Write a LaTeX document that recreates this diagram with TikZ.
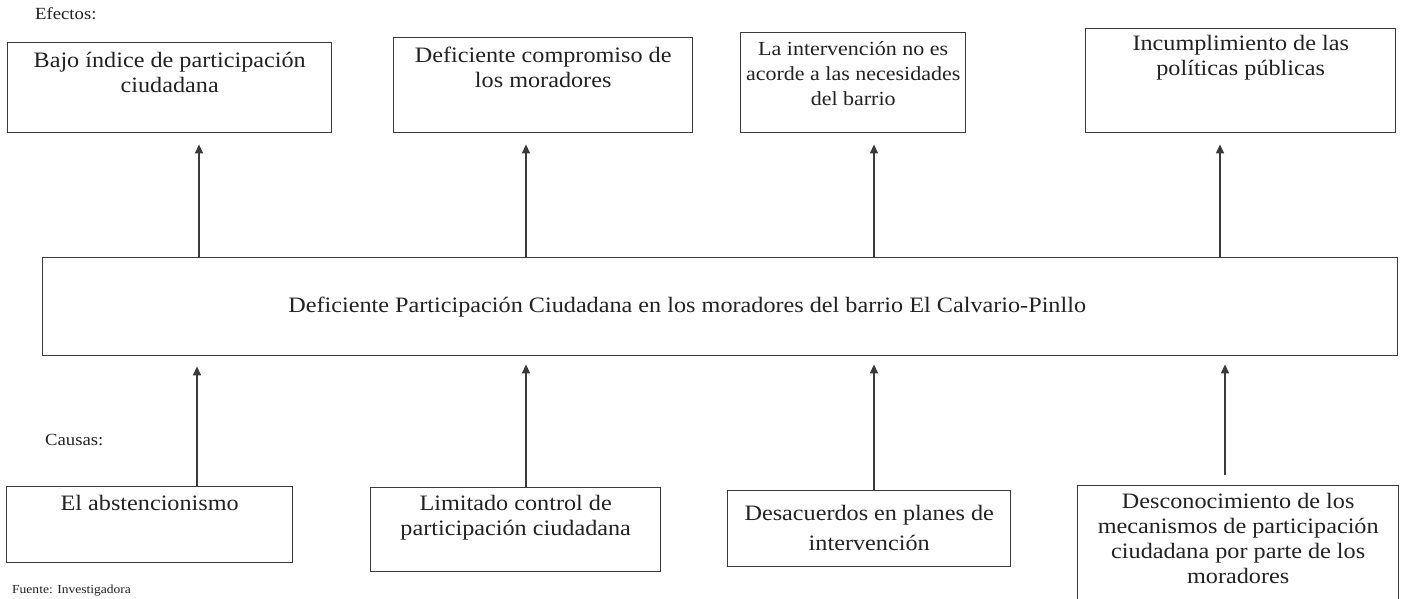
\documentclass[tikz,border=0pt]{standalone}
\usepackage{fontspec}
\setmainfont{Liberation Serif}[FakeStretch=1.1]
\usetikzlibrary{arrows.meta}
\definecolor{ink}{HTML}{222222}
\definecolor{edge}{HTML}{3A3A3A}
\newcommand{\bxt}[4]{\parbox[t][#2pt][t]{#1pt}{\centering\leftskip=-40pt plus 1fil\rightskip=-40pt plus 1fil\rule{0pt}{#3pt}#4}}
\tikzset{
  box/.style={draw=edge, line width=1.4pt, inner sep=0pt, anchor=north west, text=ink,
    font=\fontsize{22}{25}\selectfont},
  lbl/.style={inner sep=0pt, anchor=base west, text=ink, font=\fontsize{17}{20}\selectfont},
  arr/.style={draw=edge, line width=1.3pt, -{Triangle[length=9pt,width=8pt]}},
}
\begin{document}
\begin{tikzpicture}[x=1pt,y=-1pt]
\useasboundingbox[fill=white] (0,0) rectangle (1403,599);
% labels
\node[lbl] (efe) at (35,20) {Efectos:};
\node[lbl] (cau) at (45,445) {Causas:};
\node[lbl,font=\fontsize{12.3}{15}\selectfont] (fue) at (12,593) {Fuente: Investigadora};
% effects
\node[box] (e1) at (7,42) {\bxt{324}{90}{25}{Bajo índice de participación\\ciudadana}};
\node[box] (e2) at (393,37) {\bxt{299}{95}{25}{Deficiente compromiso de\\los moradores}};
\node[box, font=\fontsize{20}{25}\selectfont] (e3) at (740,32) {\bxt{225}{100}{23}{La intervención no es\\acorde a las necesidades\\del barrio}};
\node[box] (e4) at (1085,28) {\bxt{310}{104}{22}{Incumplimiento de las\\políticas públicas}};
% central
\node[box] (c) at (42,257) {\parbox[c][98pt][c]{1355pt}{\centering\hspace*{-66pt}Deficiente Participación Ciudadana en los moradores del barrio El Calvario-Pinllo}};
% causes
\node[box] (k1) at (6,486) {\bxt{286}{76}{24}{El abstencionismo}};
\node[box] (k2) at (370,487) {\bxt{290}{84}{23}{Limitado control de\\participación ciudadana}};
\node[box] (k3) at (727,490) {\bxt{283}{76}{30}{\fontsize{22}{30}\selectfont Desacuerdos en planes de\\intervención}};
\node[box] (k4) at (1077,485) {\bxt{321}{120}{23}{Desconocimiento de los\\mecanismos de participación\\ciudadana por parte de los\\moradores}};
% arrow columns
\coordinate (a1) at (199,0);
\coordinate (a2) at (526,0);
\coordinate (a3) at (874,0);
\coordinate (a4) at (1220,0);
\coordinate (b1) at (197,0);
\coordinate (b2) at (526,0);
\coordinate (b3) at (874,0);
\coordinate (b4) at (1225,0);
\draw[arr, shorten >=11pt] (c.north -| a1) -- (e1.south -| a1);
\draw[arr, shorten >=11pt] (c.north -| a2) -- (e2.south -| a2);
\draw[arr, shorten >=11pt] (c.north -| a3) -- (e3.south -| a3);
\draw[arr, shorten >=11pt] (c.north -| a4) -- (e4.south -| a4);
\draw[arr, shorten >=10pt] (k1.north -| b1) -- (c.south -| b1);
\draw[arr, shorten >=8pt] (k2.north -| b2) -- (c.south -| b2);
\draw[arr, shorten >=8pt] (k3.north -| b3) -- (c.south -| b3);
\draw[arr, shorten <=10pt, shorten >=8pt] (k4.north -| b4) -- (c.south -| b4);
\end{tikzpicture}
\end{document}
